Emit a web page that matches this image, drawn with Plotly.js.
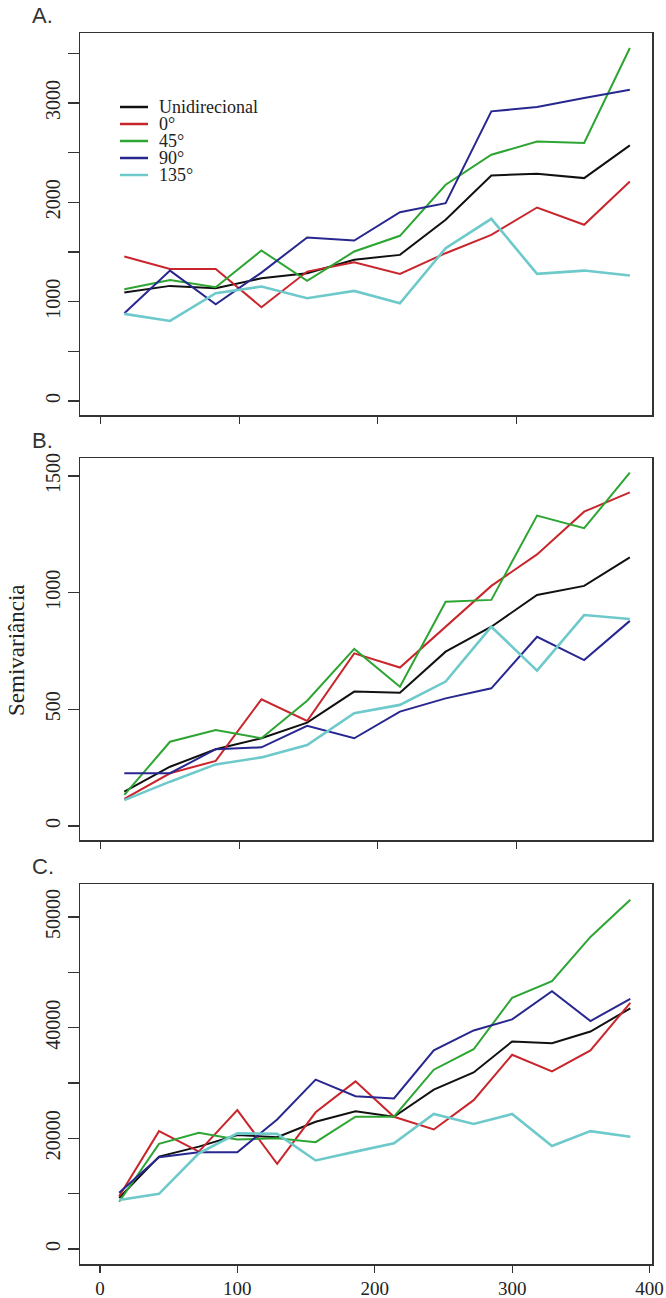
<!DOCTYPE html>
<html>
<head>
<meta charset="utf-8">
<script src="https://cdn.plot.ly/plotly-3.0.1.min.js"></script>
<style>html,body{margin:0;padding:0;background:#fff;}#chart{width:666px;height:1298px;}</style>
</head>
<body>
<div id="chart"></div>
<script>
// Lag distances
const lagAB = [17, 50, 83, 116, 149, 183, 216, 249, 282, 315, 349, 382];
const lagC = [14, 43, 72, 100, 129, 157, 186, 214, 243, 272, 300, 329, 357, 386];

const seriesNames = ['Unidirecional', '0°', '45°', '90°', '135°'];
const seriesColors = ['#111111', '#c8262c', '#2ca532', '#27278f', '#6ec9cb'];
const seriesWidths = [2, 2, 2, 2, 2.6];

// Panel A
const A_uni = [1092, 1159, 1135, 1236, 1287, 1421, 1471, 1824, 2271, 2288, 2244, 2573];
const A_0   = [1455, 1330, 1330, 944, 1303, 1397, 1280, 1488, 1673, 1948, 1774, 2210];
const A_45  = [1125, 1219, 1145, 1515, 1209, 1505, 1663, 2177, 2479, 2613, 2597, 3554];
const A_90  = [883, 1313, 974, 1293, 1646, 1616, 1901, 1992, 2916, 2959, 3050, 3134];
const A_135 = [877, 806, 1085, 1152, 1035, 1108, 984, 1538, 1834, 1280, 1313, 1263];

// Panel B
const B_uni = [147, 254, 329, 376, 443, 576, 571, 747, 854, 990, 1029, 1151];
const B_0   = [116, 226, 279, 543, 450, 740, 679, 854, 1029, 1164, 1347, 1430];
const B_45  = [133, 361, 411, 376, 537, 759, 597, 961, 969, 1330, 1276, 1514];
const B_90  = [226, 226, 329, 337, 429, 376, 490, 547, 590, 811, 711, 879];
const B_135 = [111, 190, 264, 294, 347, 483, 519, 619, 854, 666, 904, 887];

// Panel C
const C_uni = [9250, 16700, 18500, 20600, 20200, 23000, 24900, 23900, 28800, 31900, 37500, 37200, 39300, 43500];
const C_0   = [9550, 21300, 17600, 25100, 15400, 24700, 30300, 23900, 21600, 26900, 35100, 32100, 35900, 44500];
const C_45  = [8540, 19000, 21000, 19800, 20000, 19300, 23900, 23900, 32400, 36100, 45400, 48400, 56400, 63100];
const C_90  = [10150, 16600, 17500, 17500, 23400, 30600, 27600, 27200, 35900, 39500, 41500, 46600, 41200, 45200];
const C_135 = [8840, 9970, 17300, 20900, 20800, 16000, 17600, 19100, 24400, 22600, 24400, 18600, 21300, 20300];

// Tick labels
const yTicksA = [0, 500, 1000, 1500, 2000, 2500, 3000, 3500];
const yTextA = ['0', '', '1000', '', '2000', '', '3000', ''];
const yTicksB = [0, 500, 1000, 1500];
const yTextB = ['0', '500', '1000', '1500'];
const yTicksC = [0, 10000, 20000, 30000, 40000, 50000, 60000];
const yTextC = ['0', '', '20000', '', '40000', '', '50000'];
const xTicks = [0, 100, 200, 300, 400];
const xText = ['0', '100', '200', '300', '400'];
const panelLabels = ['A.', 'B.', 'C.'];
const yTitle = 'Semivariância';

const W = 666, H = 1298;
const panels = [
  {x: lagAB, ys: [A_uni, A_0, A_45, A_90, A_135], xa: 'x', ya: 'y'},
  {x: lagAB, ys: [B_uni, B_0, B_45, B_90, B_135], xa: 'x2', ya: 'y2'},
  {x: lagC,  ys: [C_uni, C_0, C_45, C_90, C_135], xa: 'x3', ya: 'y3'}
];

const traces = [];
panels.forEach(p => {
  p.ys.forEach((ys, i) => {
    traces.push({
      x: p.x, y: ys, type: 'scatter', mode: 'lines',
      name: seriesNames[i], xaxis: p.xa, yaxis: p.ya,
      line: {color: seriesColors[i], width: seriesWidths[i]},
      showlegend: false, hoverinfo: 'x+y+name'
    });
  });
});

const serif = 'Liberation Serif, Times New Roman, serif';
const yFont = {family: serif, size: 20, color: '#222'};
const xFont = {family: serif, size: 19, color: '#222'};
const xDom = [80 / W, 652 / W];
function py(px) { return 1 - px / H; }

function xaxis(anchor, range, showLabels) {
  return {
    domain: xDom, anchor: anchor, range: range,
    tickmode: 'array', tickvals: xTicks, ticktext: xText,
    showticklabels: showLabels, ticks: 'outside', ticklen: 7, tickwidth: 1.2, tickcolor: '#333',
    showline: true, mirror: true, linecolor: '#333', linewidth: 1.5,
    showgrid: false, zeroline: false, tickfont: xFont
  };
}
function yaxis(anchor, dom, range, vals, txt) {
  return {
    domain: dom, anchor: anchor, range: range,
    tickmode: 'array', tickvals: vals, ticktext: txt, tickangle: -90,
    ticks: 'outside', ticklen: 11, tickwidth: 1.2, tickcolor: '#333',
    showline: true, mirror: true, linecolor: '#333', linewidth: 1.5,
    showgrid: false, zeroline: false, tickfont: yFont
  };
}

const annotations = [];
const panelY = [16, 440, 866];
panelLabels.forEach((t, i) => {
  annotations.push({
    text: t, xref: 'paper', yref: 'paper', x: 30 / W, y: py(panelY[i]),
    xanchor: 'left', yanchor: 'middle', showarrow: false,
    font: {family: 'Liberation Sans Narrow, Liberation Sans, Arial, sans-serif', size: 22, color: '#333'}
  });
});
annotations.push({
  text: yTitle, xref: 'paper', yref: 'paper', x: 16 / W, y: py(650),
  xanchor: 'center', yanchor: 'middle', textangle: -90, showarrow: false,
  font: {family: serif, size: 23, color: '#222'}
});

// Custom legend in panel A
const shapes = [];
const legRows = [107, 124, 141, 158, 175];
seriesNames.forEach((n, i) => {
  shapes.push({
    type: 'line', xref: 'paper', yref: 'paper',
    x0: 120 / W, x1: 148 / W, y0: py(legRows[i]), y1: py(legRows[i]),
    line: {color: seriesColors[i], width: 2.5}
  });
  annotations.push({
    text: n, xref: 'paper', yref: 'paper', x: 157 / W, y: py(legRows[i]),
    xanchor: 'left', yanchor: 'middle', showarrow: false, height: 16, valign: 'middle',
    font: {family: serif, size: 18, color: '#222'}
  });
});

const layout = {
  width: W, height: H,
  margin: {l: 0, r: 0, t: 0, b: 0},
  paper_bgcolor: '#fff', plot_bgcolor: '#fff',
  showlegend: false,
  xaxis: xaxis('y', [-15, 398], false),
  yaxis: yaxis('x', [py(415), py(33)], [-141, 3705], yTicksA, yTextA),
  xaxis2: xaxis('y2', [-15, 398], false),
  yaxis2: yaxis('x2', [py(840), py(458)], [-60, 1577], yTicksB, yTextB),
  xaxis3: xaxis('y3', [-14.5, 401.8], true),
  yaxis3: yaxis('x3', [py(1264), py(884)], [-2711, 65964], yTicksC, yTextC),
  annotations: annotations,
  shapes: shapes
};

Plotly.newPlot('chart', traces, layout, {displayModeBar: false, staticPlot: true});
</script>
</body>
</html>
